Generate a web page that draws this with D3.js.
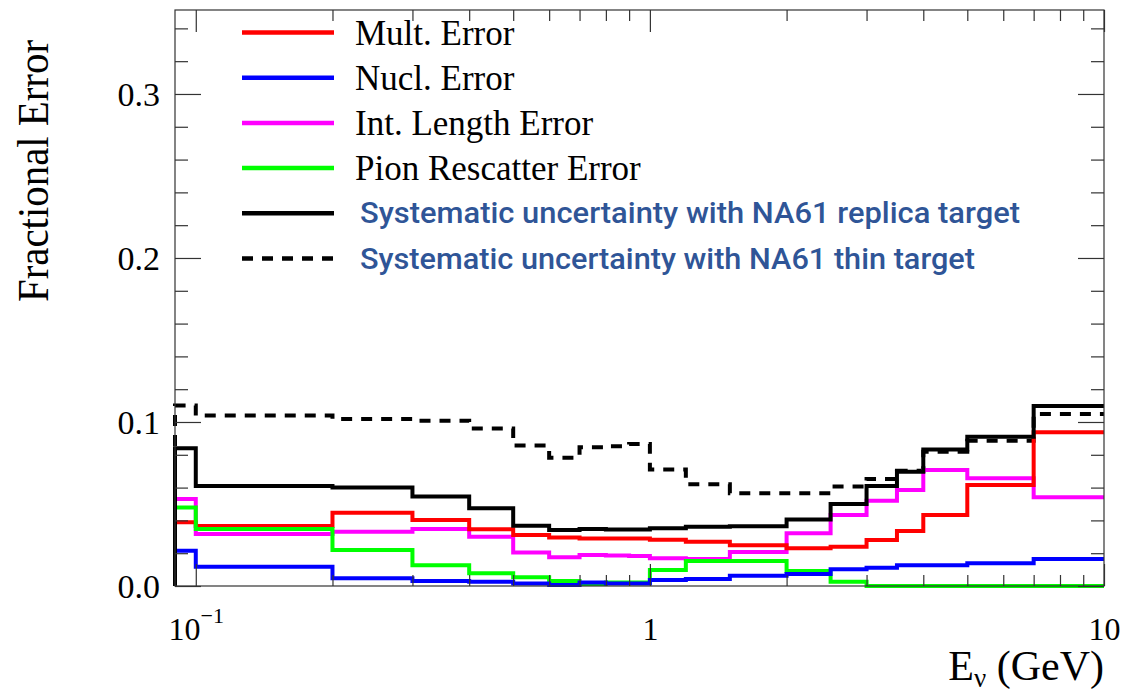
<!DOCTYPE html>
<html>
<head>
<meta charset="utf-8">
<script src="https://cdn.jsdelivr.net/npm/d3@7"></script>
<style>
  html, body { margin: 0; padding: 0; background: #fff; }
  svg { display: block; }
  .serif { font-family: "Liberation Serif", "Times New Roman", serif; fill: #000; }
</style>
</head>
<body>
<svg id="chart" width="1122" height="693"></svg>
<script>
// Neutrino energy bin edges (GeV)
const binEdges = [0.09, 0.1, 0.2, 0.3, 0.4, 0.5, 0.6, 0.7, 0.8, 0.9, 1.0,
                  1.2, 1.5, 2.0, 2.5, 3.0, 3.5, 4.0, 5.0, 7.0, 10.0];

// Fractional error per bin
const multError = [0.0388, 0.0366, 0.0447, 0.0402, 0.0346, 0.0311, 0.0295, 0.0290, 0.0290, 0.0290,
                   0.0282, 0.0270, 0.0248, 0.0230, 0.0240, 0.0280, 0.0335, 0.0433, 0.0616, 0.0937];
const nuclError = [0.0215, 0.0118, 0.0047, 0.0030, 0.0026, 0.0016, 0.0006, 0.0022, 0.0015, 0.0015,
                   0.0037, 0.0043, 0.0062, 0.0073, 0.0102, 0.0112, 0.0126, 0.0126, 0.0138, 0.0165];
const intLengthError = [0.0530, 0.0317, 0.0331, 0.0347, 0.0301, 0.0205, 0.0175, 0.0189, 0.0186, 0.0183,
                        0.0169, 0.0165, 0.0207, 0.0321, 0.0433, 0.0520, 0.0585, 0.0707, 0.0657, 0.0541];
const pionRescatterError = [0.0478, 0.0347, 0.0220, 0.0126, 0.0077, 0.0053, 0.0030, 0.0012, 0.0022, 0.0022,
                            0.0098, 0.0152, 0.0152, 0.0091, 0.0026, 0.0, 0.0, 0.0, 0.0, 0.0];
const systReplica = [0.0840, 0.0610, 0.0600, 0.0545, 0.0474, 0.0368, 0.0341, 0.0347, 0.0345, 0.0345,
                     0.0352, 0.0362, 0.0365, 0.0405, 0.0500, 0.0610, 0.0697, 0.0833, 0.0910, 0.1098];
const systThin = [0.1100, 0.1040, 0.1018, 0.1008, 0.0961, 0.0856, 0.0782, 0.0846, 0.0852, 0.0866,
                  0.0711, 0.0620, 0.0565, 0.0565, 0.0606, 0.0652, 0.0703, 0.0819, 0.0886, 0.1049];

// Axis ticks
const xMajorTicks = [0.1, 1, 10];
const xMinorTicks = [0.2, 0.3, 0.4, 0.5, 0.6, 0.7, 0.8, 0.9, 2, 3, 4, 5, 6, 7, 8, 9];
const yMajorTicks = [0.0, 0.1, 0.2, 0.3];
const yMinorTicks = [0.02, 0.04, 0.06, 0.08, 0.12, 0.14, 0.16, 0.18, 0.22, 0.24, 0.26, 0.28, 0.32, 0.34];

const legendLabels = ["Mult. Error", "Nucl. Error", "Int. Length Error", "Pion Rescatter Error",
                      "Systematic uncertainty with NA61 replica target",
                      "Systematic uncertainty with NA61 thin target"];

const series = [
  { values: systThin,           color: "#000000", dash: "11,9" },
  { values: intLengthError,     color: "#ff00ff", dash: null },
  { values: multError,          color: "#ff0000", dash: null },
  { values: pionRescatterError, color: "#00ff00", dash: null },
  { values: nuclError,          color: "#0000ff", dash: null },
  { values: systReplica,        color: "#000000", dash: null }
];

const frame = { left: 175, right: 1104, top: 10, bottom: 586 };

const svg = d3.select("#chart");

const x = d3.scaleLog().domain([0.09, 10]).range([frame.left, frame.right]);
const y = d3.scaleLinear().domain([0, 0.3512]).range([frame.bottom, frame.top]);

// Clip for the histogram outlines (allow a little overflow below the frame)
svg.append("defs").append("clipPath").attr("id", "plotClip")
  .append("rect")
  .attr("x", frame.left - 3).attr("y", frame.top)
  .attr("width", frame.right - frame.left + 3).attr("height", frame.bottom - frame.top + 6);

// Step outline: rise from zero at the first edge, then one step per bin
function stepPoints(values) {
  const pts = [{ e: binEdges[0], v: 0 }];
  values.forEach((v, i) => pts.push({ e: binEdges[i], v }));
  pts.push({ e: binEdges[binEdges.length - 1], v: values[values.length - 1] });
  return pts;
}
const stepLine = d3.line().x(d => x(d.e)).y(d => y(d.v)).curve(d3.curveStepAfter);

const plot = svg.append("g").attr("clip-path", "url(#plotClip)");
series.forEach(s => {
  plot.append("path")
    .datum(stepPoints(s.values))
    .attr("d", stepLine)
    .attr("fill", "none")
    .attr("stroke", s.color)
    .attr("stroke-width", 4)
    .attr("stroke-dasharray", s.dash)
    .attr("stroke-linejoin", "miter");
});

// Axes: ticks on all four sides, pointing inward
function styleAxis(g) {
  g.select(".domain").remove();
  g.selectAll(".tick line").attr("stroke", "#333").attr("stroke-width", 1.2);
}

// bottom
svg.append("g").attr("transform", `translate(0,${frame.bottom})`)
  .call(d3.axisBottom(x).tickValues(xMinorTicks).tickSize(-11).tickFormat(""))
  .call(styleAxis);
const xMajor = svg.append("g").attr("transform", `translate(0,${frame.bottom})`)
  .call(d3.axisBottom(x).tickValues(xMajorTicks).tickSize(-22).tickPadding(31)
        .tickFormat(d => d === 0.1 ? "10" : d3.format("d")(d)))
  .call(styleAxis);
xMajor.selectAll(".tick text")
  .attr("class", "serif").attr("font-size", 32).attr("fill", "#000")
  .each(function(d) {
    if (d === 0.1) {
      d3.select(this).append("tspan")
        .attr("font-size", 22).attr("dy", "-0.75em").text("\u22121");
    }
  });
// top
svg.append("g").attr("transform", `translate(0,${frame.top})`)
  .call(d3.axisTop(x).tickValues(xMinorTicks).tickSize(-11).tickFormat(""))
  .call(styleAxis);
svg.append("g").attr("transform", `translate(0,${frame.top})`)
  .call(d3.axisTop(x).tickValues(xMajorTicks).tickSize(-22).tickFormat(""))
  .call(styleAxis);
// left
svg.append("g").attr("transform", `translate(${frame.left},0)`)
  .call(d3.axisLeft(y).tickValues(yMinorTicks).tickSize(-13).tickFormat(""))
  .call(styleAxis);
const yMajor = svg.append("g").attr("transform", `translate(${frame.left},0)`)
  .call(d3.axisLeft(y).tickValues(yMajorTicks).tickSize(-26).tickPadding(15)
        .tickFormat(d3.format(".1f")))
  .call(styleAxis);
yMajor.selectAll(".tick text")
  .attr("class", "serif").attr("font-size", 34).attr("fill", "#000").attr("dy", "0.34em");
// right
svg.append("g").attr("transform", `translate(${frame.right},0)`)
  .call(d3.axisRight(y).tickValues(yMinorTicks).tickSize(-13).tickFormat(""))
  .call(styleAxis);
svg.append("g").attr("transform", `translate(${frame.right},0)`)
  .call(d3.axisRight(y).tickValues(yMajorTicks).tickSize(-26).tickFormat(""))
  .call(styleAxis);

// Frame
svg.append("rect")
  .attr("x", frame.left).attr("y", frame.top)
  .attr("width", frame.right - frame.left).attr("height", frame.bottom - frame.top)
  .attr("fill", "none").attr("stroke", "#333").attr("stroke-width", 1.2);

// Axis titles
svg.append("text").attr("class", "serif")
  .attr("transform", "translate(48,171) rotate(-90)")
  .attr("text-anchor", "middle").attr("font-size", 44)
  .attr("textLength", 262).attr("lengthAdjust", "spacingAndGlyphs")
  .text("Fractional Error");

const xTitle = svg.append("text").attr("class", "serif")
  .attr("x", frame.right).attr("y", 680)
  .attr("text-anchor", "end").attr("font-size", 42);
xTitle.append("tspan").text("E");
xTitle.append("tspan").attr("font-size", 27).attr("dy", "0.25em").text("\u03bd");
xTitle.append("tspan").attr("dy", "-0.16em").text(" (GeV)");

// Legend
const legendOrder = [
  { color: "#ff0000", dash: null, label: legendLabels[0], sans: false },
  { color: "#0000ff", dash: null, label: legendLabels[1], sans: false },
  { color: "#ff00ff", dash: null, label: legendLabels[2], sans: false },
  { color: "#00ff00", dash: null, label: legendLabels[3], sans: false },
  { color: "#000000", dash: null, label: legendLabels[4], sans: true, len: 660 },
  { color: "#000000", dash: "11,9", label: legendLabels[5], sans: true, len: 615 }
];
const legend = svg.append("g");
legendOrder.forEach((d, i) => {
  const cy = 32.5 + i * 45.2;
  legend.append("line")
    .attr("x1", 242).attr("x2", 334).attr("y1", cy).attr("y2", cy)
    .attr("stroke", d.color).attr("stroke-width", 4.5)
    .attr("stroke-dasharray", d.dash);
  if (d.sans) {
    legend.append("text")
      .attr("x", 360).attr("y", cy + 10)
      .attr("font-family", "Roboto, 'Liberation Sans', sans-serif")
      .attr("font-size", 30).attr("font-weight", 500).attr("fill", "#2f5597")
      .attr("textLength", d.len).attr("lengthAdjust", "spacingAndGlyphs")
      .text(d.label);
  } else {
    legend.append("text").attr("class", "serif")
      .attr("x", 355).attr("y", cy + 12)
      .attr("font-size", 35)
      .text(d.label);
  }
});
</script>
</body>
</html>
